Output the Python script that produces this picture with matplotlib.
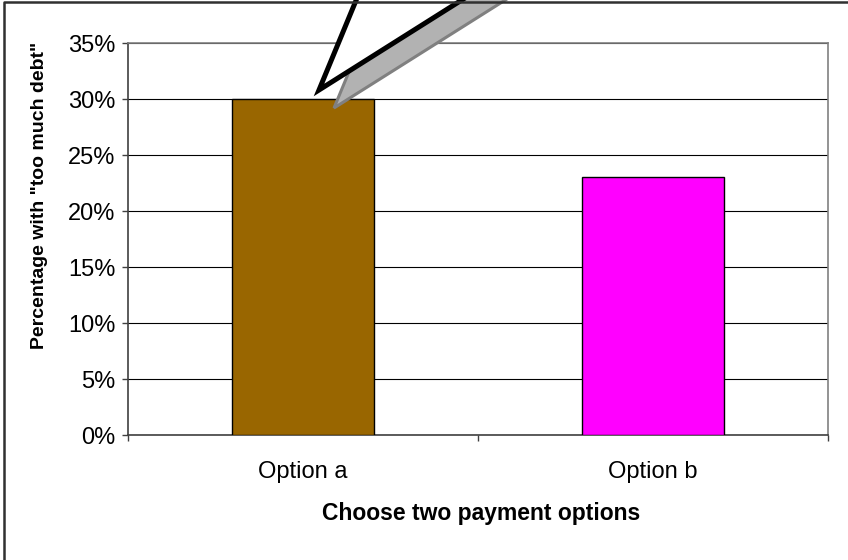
import matplotlib.pyplot as plt
from matplotlib.lines import Line2D
from matplotlib.patches import Polygon
from matplotlib.ticker import FixedLocator, PercentFormatter
from matplotlib.transforms import IdentityTransform

plt.rcParams['font.family'] = ['Liberation Sans', 'DejaVu Sans']

options = ['Option a', 'Option b']
share_too_much_debt = [0.30, 0.23]
bar_colors = ['#996600', '#FF00FF']

fig = plt.figure(figsize=(8.48, 5.6), dpi=100)
ax = fig.add_axes([128 / 848, 125 / 560, 700 / 848, 392 / 560])

x = range(len(options))
ax.bar(x, share_too_much_debt, width=0.406, color=bar_colors,
       edgecolor='black', linewidth=1.0, zorder=3)

ax.set_xlim(-0.5, len(options) - 0.5)
ax.set_ylim(0, 0.35)
ax.set_yticks([i * 0.05 for i in range(8)])
ax.yaxis.set_major_formatter(PercentFormatter(1.0, decimals=0))
ax.yaxis.grid(True, color='black', linewidth=0.8, zorder=0)
ax.set_axisbelow(True)

ax.set_xticks(list(x))
ax.set_xticklabels(options)
ax.xaxis.set_minor_locator(FixedLocator([-0.5, 0.5, 1.5]))
ax.tick_params(axis='x', which='major', length=0, pad=19, labelsize=17)
ax.tick_params(axis='x', which='minor', length=4, width=1, direction='out', color='#404040')
ax.tick_params(axis='y', length=4, width=1, direction='out', pad=5, labelsize=17, color='#404040')
for lbl in ax.get_xticklabels():
    lbl.set_x(lbl.get_position()[0])

for side in ['top', 'right']:
    ax.spines[side].set_color('#808080')
    ax.spines[side].set_linewidth(1.2)
for side in ['left', 'bottom']:
    ax.spines[side].set_color('#404040')
    ax.spines[side].set_linewidth(1.2)

ax.set_xlabel('Choose two payment options', fontsize=16.5, fontweight='bold')
ax.xaxis.set_label_coords(0.504, -0.199)
ax.xaxis.label.set_verticalalignment('center')
ax.set_ylabel('Percentage with "too much debt"', fontsize=14, fontweight='bold')
ax.yaxis.set_label_coords(-0.126, 0.61)
ax.yaxis.label.set_verticalalignment('center')
ax.yaxis.label.set_horizontalalignment('center')

# callout pointing at the top of the first bar, with a grey drop shadow
ax_x, ax_y = ax.transData.transform((0, share_too_much_debt[0]))
callout = [(16, 9), (95, 200), (319, 200)]
shadow_shift = (15, -18)
shadow = [(ax_x + dx + shadow_shift[0], ax_y + dy + shadow_shift[1]) for dx, dy in callout]
body = [(ax_x + dx, ax_y + dy) for dx, dy in callout]
fig.patches.append(Polygon(shadow, closed=True, facecolor='#b2b2b2', edgecolor='#808080',
                           linewidth=2.2, transform=IdentityTransform(), zorder=5, figure=fig))
fig.patches.append(Polygon(body, closed=True, facecolor='white', edgecolor='black',
                           linewidth=3.6, joinstyle='miter', transform=IdentityTransform(),
                           zorder=6, figure=fig))

# chart border: only the left and top edges fall inside the image
fig.add_artist(Line2D([3.5 / 848, 3.5 / 848, 1], [0, 1 - 1.5 / 560, 1 - 1.5 / 560],
                      transform=fig.transFigure, color='#303030', linewidth=1.8, zorder=10))

fig.savefig('out.png', dpi=100)
